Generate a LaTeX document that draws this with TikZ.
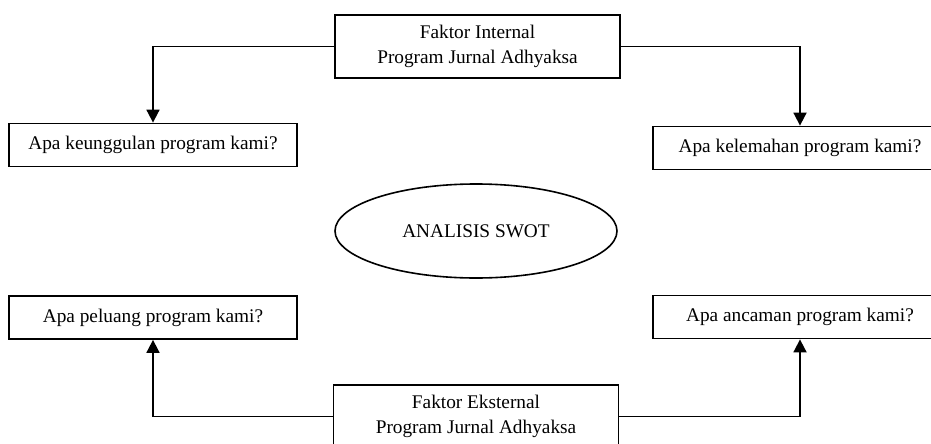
\documentclass[tikz,border=0pt]{standalone}
\usepackage{fontspec}
\setmainfont{Liberation Serif}
\usepackage{tikz}
\usetikzlibrary{positioning, shapes.geometric, arrows.meta}

\begin{document}
\begin{tikzpicture}[
    x=1pt, y=-1pt,
    % -------------------------------------------------
    % Node styles
    % -------------------------------------------------
    factorbox/.style={
        rectangle,
        draw=black,
        line width=1.8pt,
        fill=white,
        minimum width=285pt,
        minimum height=63pt,
        align=center,
        font=\fontsize{19.3}{25}\selectfont
    },
    questionbox/.style={
        rectangle,
        draw=black,
        line width=1.8pt,
        fill=white,
        minimum width=288pt,
        minimum height=43pt,
        align=center,
        font=\fontsize{19.3}{25}\selectfont
    },
    swot/.style={
        ellipse,
        draw=black,
        line width=1.6pt,
        minimum width=282pt,
        minimum height=94pt,
        inner sep=0pt,
        font=\fontsize{19.3}{25}\selectfont
    },
    % -------------------------------------------------
    % Connections
    % -------------------------------------------------
    arrow/.style={
        -{Triangle[width=13pt, length=13pt]},
        line width=1.8pt,
        draw=black
    }
]

\useasboundingbox (0,0) rectangle (931,444);

% =====================================================
% Factors
% =====================================================

\node[factorbox] (internal) at (477.5,46.5)
    {Faktor Internal\\Program Jurnal Adhyaksa};

\node[factorbox] (external) at (476,416.5)
    {Faktor Eksternal\\Program Jurnal Adhyaksa};

% =====================================================
% Centre
% =====================================================

\node[swot] (analysis) at (476,231) {ANALISIS SWOT};

% =====================================================
% Questions
% =====================================================

\node[questionbox] (strength) at (153,145)
    {Apa keunggulan program kami?};

\node[questionbox, minimum width=294pt] (weakness) at (800,148)
    {Apa kelemahan program kami?};

\node[questionbox] (opportunity) at (153,317.5)
    {Apa peluang program kami?};

\node[questionbox, minimum width=294pt] (threat) at (800,317)
    {Apa ancaman program kami?};

% =====================================================
% Internal Flow
% =====================================================

\draw[arrow]
    (internal.west) -| (strength.north);

\draw[arrow]
    (internal.east) -| (weakness.north);

% =====================================================
% External Flow
% =====================================================

\draw[arrow]
    (external.west) -| (opportunity.south);

\draw[arrow]
    (external.east) -| (threat.south);

\end{tikzpicture}
\end{document}
